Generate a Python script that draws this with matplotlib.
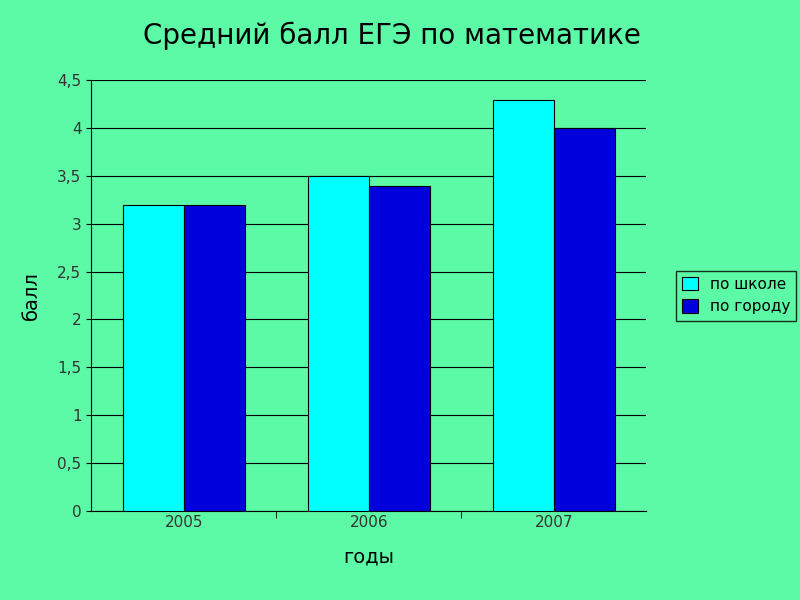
import matplotlib
matplotlib.use("Agg")
import matplotlib.pyplot as plt
import numpy as np

years = ["2005", "2006", "2007"]
school = [3.2, 3.5, 4.3]
city = [3.2, 3.4, 4.0]
yticks = [0, 0.5, 1, 1.5, 2, 2.5, 3, 3.5, 4, 4.5]
yticklabels = ["0", "0,5", "1", "1,5", "2", "2,5", "3", "3,5", "4", "4,5"]

bg = "#5CF9A6"
fig = plt.figure(figsize=(8, 6), dpi=100, facecolor=bg)
ax = fig.add_axes([0.114, 0.149, 0.694, 0.717], facecolor=bg)
x = np.arange(len(years))
w = 0.33
ax.bar(x - w/2, school, w, color="#00FFFF", edgecolor="black", linewidth=0.8, label="по школе", zorder=3)
ax.bar(x + w/2, city, w, color="#0000DD", edgecolor="black", linewidth=0.8, label="по городу", zorder=3)
ax.set_ylim(0, 4.5)
ax.set_xlim(-0.5, 2.5)
ax.set_yticks(yticks)
ax.set_yticklabels(yticklabels, fontsize=11, color="#333333")
ax.set_xticks(x)
ax.set_xticklabels(years, fontsize=11, color="#333333")
ax.set_xticks([0.5, 1.5], minor=True)
ax.tick_params(axis="x", which="major", length=0)
ax.tick_params(axis="x", which="minor", length=5)
ax.yaxis.grid(True, color="black", linewidth=0.8, zorder=0)
for s in ["top", "right"]:
    ax.spines[s].set_visible(False)
ax.set_xlabel("годы", fontsize=14, labelpad=12)
ax.set_ylabel("балл", fontsize=14, labelpad=12)
fig.text(0.49, 0.94, "Средний балл ЕГЭ по математике", ha="center", va="center", fontsize=20)
leg = ax.legend(loc="center left", bbox_to_anchor=(1.04, 0.5), frameon=True, fancybox=False,
                edgecolor="black", facecolor=bg, fontsize=11, handlelength=1.0, handleheight=1.0)
fig.savefig("out.png", dpi=100, facecolor=bg)
